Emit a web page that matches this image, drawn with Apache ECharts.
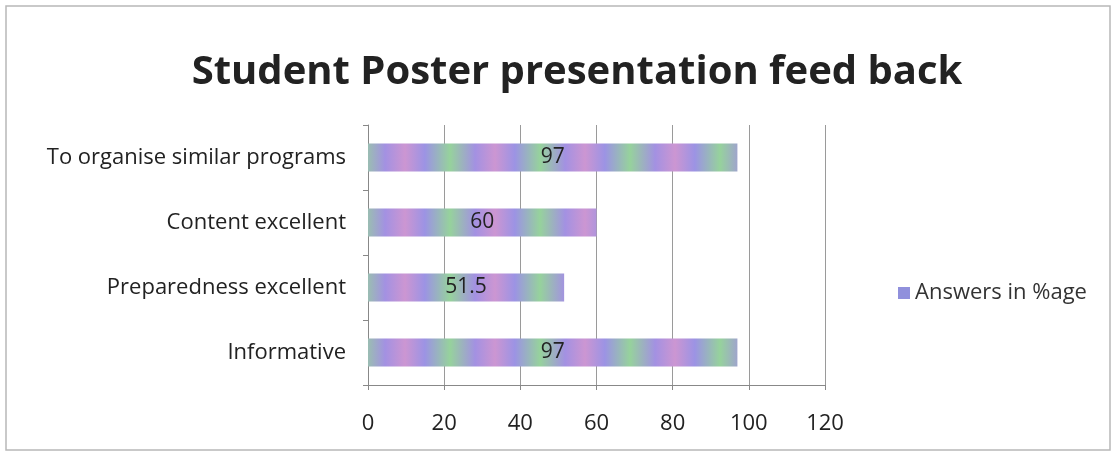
<!DOCTYPE html>
<html><head><meta charset="utf-8">
<script src="https://cdn.jsdelivr.net/npm/echarts@6/dist/echarts.min.js"></script>
<style>html,body{margin:0;padding:0;background:#fff}#c{width:1118px;height:467px}</style>
</head><body><div id="c"></div>
<script>
var categories = ['Informative', 'Preparedness excellent', 'Content excellent', 'To organise similar programs'];
var values = [97, 51.5, 60, 97];
var seriesName = 'Answers in %age';
var titleText = 'Student Poster presentation feed back';

var cv = document.createElement('canvas');
cv.width = 90; cv.height = 40;
var ctx = cv.getContext('2d');
var g = ctx.createLinearGradient(0, 0, 90, 0);
g.addColorStop(0, '#96d29c');
g.addColorStop(0.28, '#a391e2');
g.addColorStop(0.5, '#cc96d2');
g.addColorStop(0.72, '#9c93e4');
g.addColorStop(1, '#96d29c');
ctx.fillStyle = g; ctx.fillRect(0, 0, 90, 40);

var chart = echarts.init(document.getElementById('c'));
chart.setOption({
  backgroundColor: '#fff',
  graphic: [{type: 'rect', shape: {x: 6, y: 6, width: 1104, height: 444}, style: {fill: 'none', stroke: '#b8b8b8', lineWidth: 1.5}}],
  title: {text: titleText, left: 572, top: 48, textAlign: 'center',
    textStyle: {fontFamily: 'Open Sans', fontWeight: 'bold', fontSize: 40, color: '#222'}},
  legend: {data: [seriesName], left: 893, top: 277, icon: 'rect', itemWidth: 12, itemHeight: 12, itemGap: 8,
    itemStyle: {color: '#9090dc'},
    textStyle: {fontFamily: 'Open Sans', fontSize: 22, color: '#333'}},
  grid: {left: 368, right: 293, top: 125, bottom: 82},
  xAxis: {type: 'value', min: 0, max: 120, interval: 20,
    axisLine: {show: true, lineStyle: {color: '#888'}},
    axisTick: {show: true, lineStyle: {color: '#888'}},
    splitLine: {show: true, lineStyle: {color: '#9a9a9a'}},
    axisLabel: {fontFamily: 'Open Sans', fontSize: 22, color: '#222', margin: 28}},
  yAxis: {type: 'category', data: categories,
    axisLine: {show: true, lineStyle: {color: '#888'}},
    axisTick: {show: true, lineStyle: {color: '#888'}},
    axisLabel: {fontFamily: 'Open Sans', fontSize: 22, color: '#222', margin: 22}},
  series: [{name: seriesName, type: 'bar', data: values, barCategoryGap: '57%',
    itemStyle: {color: {image: cv, repeat: 'repeat'}},
    label: {show: true, position: 'inside', fontFamily: 'Open Sans', fontSize: 21, color: '#222'}}]
});
</script></body></html>
